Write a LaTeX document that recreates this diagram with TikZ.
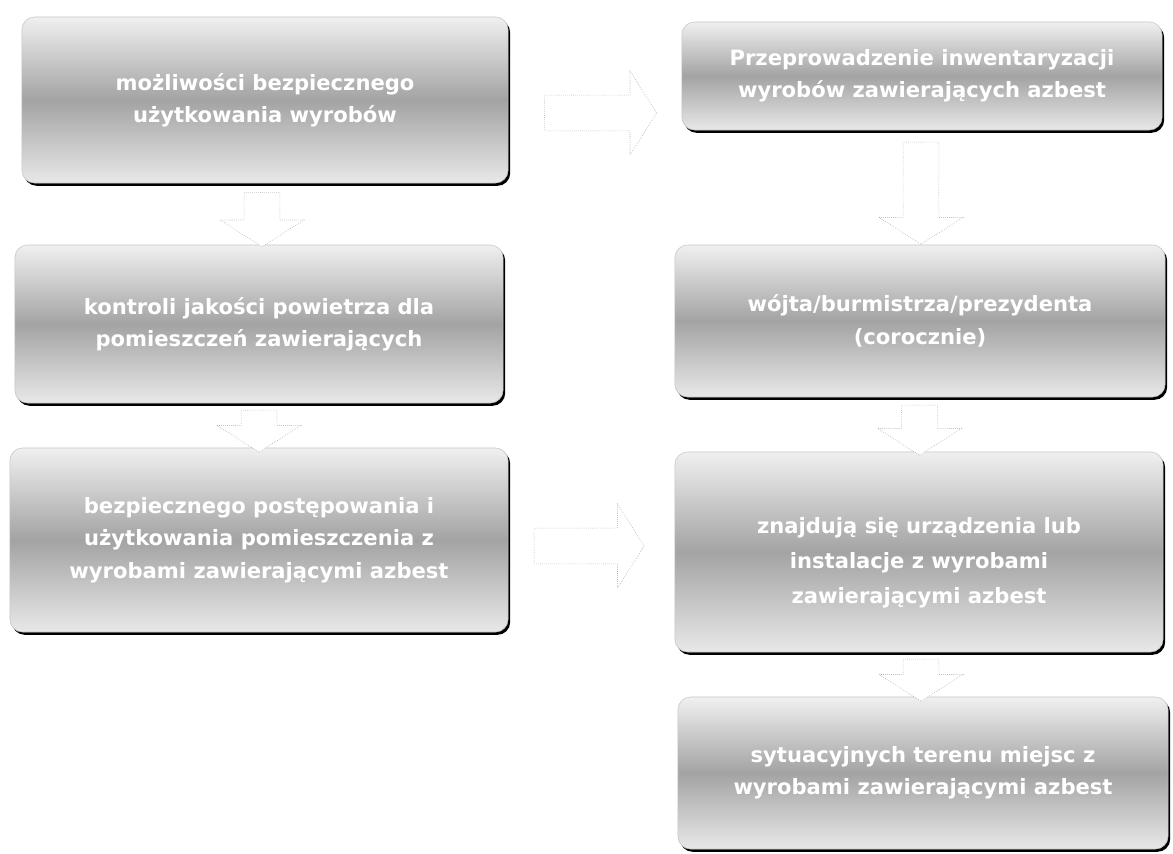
\documentclass[tikz,border=0pt]{standalone}
\usepackage{fontspec}
\setmainfont{DejaVu Sans}
\usetikzlibrary{positioning,calc,shapes.arrows,shadows}

\begin{document}
\begin{tikzpicture}[x=0.025cm, y=-0.025cm,
    boxtext/.style={text=white, font=\bfseries\fontsize{15}{23}\selectfont, align=center},
    stepbox/.style={boxtext, draw=gray!45, rounded corners=9pt, top color=gray!12, bottom color=gray!18, middle color=gray!72,
      drop shadow={shadow xshift=1.5pt, shadow yshift=-2pt, fill=black, opacity=1}},
    bigarrow/.style={single arrow, draw=gray!70, densely dotted, fill=white, inner xsep=0pt, inner ysep=0.44cm,
      single arrow head extend=0.6cm, single arrow tip angle=115}]
  \useasboundingbox[fill=white] (0,0) rectangle (1173,854);
  \node[stepbox, minimum width=12.15cm, minimum height=4.15cm] (ocena) at (265,100)
    {możliwości bezpiecznego\\użytkowania wyrobów};
  \node[stepbox, minimum width=12.2cm, minimum height=3.95cm] (kontrola) at (259,324)
    {kontroli jakości powietrza dla\\pomieszczeń zawierających};
  \node[stepbox, minimum width=12.45cm, minimum height=4.6cm] (postep) at (259,540)
    {bezpiecznego postępowania i\\użytkowania pomieszczenia z\\wyrobami zawierającymi azbest};
  \node[stepbox, minimum width=12cm, minimum height=2.7cm] (inw) at (922,76)
    {Przeprowadzenie inwentaryzacji\\wyrobów zawierających azbest};
  \node[stepbox, minimum width=12.25cm, minimum height=3.8cm] (info) at (920,321)
    {wójta/burmistrza/prezydenta\\(corocznie)};
  \node[stepbox, minimum width=12.2cm, minimum height=5cm] (urz) at (919,552) {};
  \node[boxtext, font=\bfseries\fontsize{15}{25}\selectfont] (urztxt) at (919,563)
    {znajdują się urządzenia lub\\instalacje z wyrobami\\zawierającymi azbest};
  \node[stepbox, minimum width=12.25cm, minimum height=3.8cm] (szkic) at (923,773)
    {sytuacyjnych terenu miejsc z\\wyrobami zawierającymi azbest};
  \node[bigarrow, minimum height=2.8cm] (r1) at ($(ocena.east)!0.5!(inw.west |- ocena.east)+(0,13)$) {};
  \node[bigarrow, minimum height=2.75cm] (r2) at ($(postep.east)!0.5!(urz.west)+(-8,0)$) {};
  \foreach \a/\b/\len in {ocena/kontrola/1.35cm, kontrola/postep/1.05cm, inw/info/2.55cm, info/urz/1.25cm, urz/szkic/1.05cm} {
    \node[bigarrow, rotate=-90, minimum height=\len] at ($(\a.south)!0.5!(\b.north)$) {};
  }
\end{tikzpicture}
\end{document}
